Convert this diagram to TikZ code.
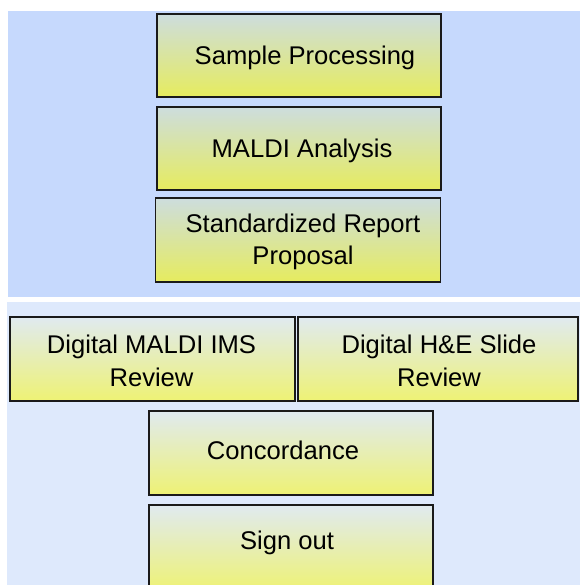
\documentclass[tikz,border=0pt]{standalone}
\usepackage{fontspec}
\setmainfont{Liberation Sans}
\definecolor{toppanel}{HTML}{C6D9FD}
\definecolor{botpanel}{HTML}{DEE9FC}
\definecolor{boxtopA}{HTML}{CDDDDE}
\definecolor{boxbotA}{HTML}{E6EC5E}
\definecolor{boxtopB}{HTML}{E0EAF0}
\definecolor{boxbotB}{HTML}{EEF274}
\definecolor{edge}{HTML}{1A1A1A}
\tikzset{
  panel/.style={draw=none, inner sep=0pt, outer sep=0pt},
  boxA/.style={draw=edge, line width=1.8pt, top color=boxtopA, bottom color=boxbotA, inner sep=0pt},
  boxB/.style={draw=edge, line width=1.8pt, top color=boxtopB, bottom color=boxbotB, inner sep=0pt},
  lbl/.style={inner sep=0pt, align=center, font=\fontsize{25.6}{32.5}\selectfont, text=black}
}
\begin{document}
\begin{tikzpicture}[x=1pt,y=-1pt]
\useasboundingbox (0,0) rectangle (580,585);
\clip (0,0) rectangle (580,585);
\fill[white] (0,0) rectangle (580,585);
% panels
\node[panel, fill=toppanel, minimum width=572, minimum height=286] (top) at (294,154) {};
\node[panel, fill=botpanel, minimum width=573, minimum height=290] (bot) at (293.5,447) {};
% top boxes
\node[boxA, minimum width=284, minimum height=83] (sp) at (299,55.5) {};
\node[lbl] (spt) at ([xshift=6,yshift=-2]sp.center) {Sample Processing};
\node[boxA, minimum width=284, minimum height=83] (ma) at (299,148.5) {};
\node[lbl] (mat) at ([xshift=3,yshift=-2]ma.center) {MALDI Analysis};
\node[boxA, minimum width=285, minimum height=84] (sr) at (298,240) {};
\node[lbl] (srt) at ([xshift=5,yshift=-2]sr.center) {Standardized Report\\Proposal};
% bottom boxes
\node[boxB, minimum width=285, minimum height=84] (dm) at (152.5,359) {};
\node[lbl] (dmt) at ([xshift=-1,yshift=-2]dm.center) {Digital MALDI IMS\\Review};
\node[boxB, minimum width=280, minimum height=84] (dh) at (438,359) {};
\node[lbl] (dht) at ([xshift=1,yshift=-2]dh.center) {Digital H\&E Slide\\Review};
\node[boxB, minimum width=284, minimum height=84] (co) at (291,453) {};
\node[lbl] (cot) at ([xshift=-8,yshift=3]co.center) {Concordance};
\node[boxB, minimum width=284, minimum height=86] (so) at (291,548) {};
\node[lbl] (sot) at ([xshift=-4,yshift=5]so.center) {Sign out};
\end{tikzpicture}
\end{document}
